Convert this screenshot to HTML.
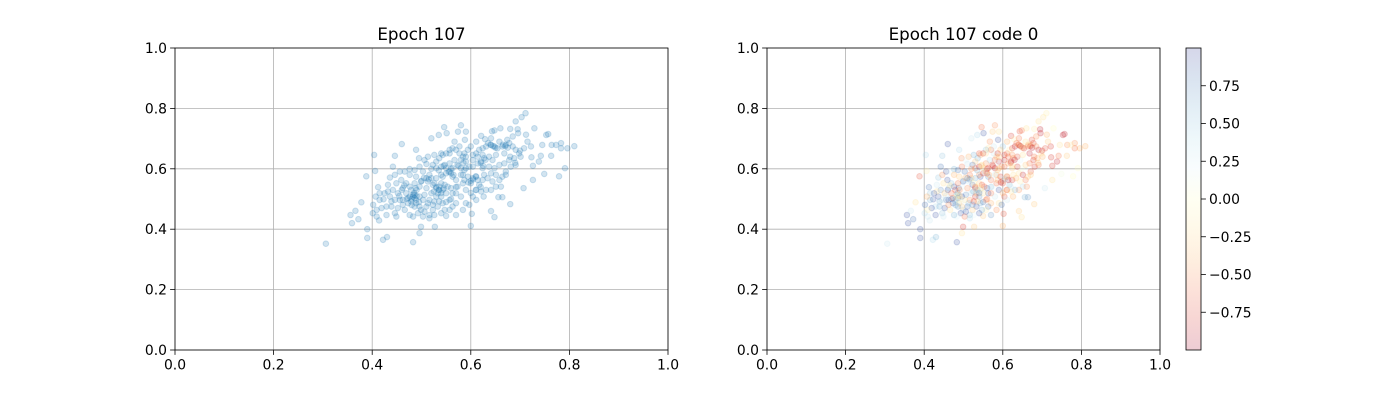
<!DOCTYPE html>
<html><head><meta charset="utf-8">
<style>
body{margin:0;background:#fff;}
svg{display:block;font-family:"DejaVu Sans","Liberation Sans",sans-serif;}
</style></head>
<body>
<svg id="fig" width="1400" height="400" viewBox="0 0 1400 400" xmlns="http://www.w3.org/2000/svg">
<rect width="1400" height="400" fill="#fff"/>
</svg>
<script>
const xsMain=[0.306,0.356,0.359,0.372,0.366,0.378,0.388,0.390,0.390,0.401,0.404,0.406,0.412,0.414,0.422,0.430,0.423,0.436,0.442,0.446,0.460,0.476,0.483,0.489,0.495,0.496,0.499,0.510,0.520,0.527,0.535,0.546,0.551,0.574,0.580,0.590,0.588,0.600,0.602,0.621,0.629,0.643,0.648,0.660,0.680,0.691,0.703,0.711,0.695,0.696,0.712,0.729,0.753,0.757,0.745,0.764,0.783,0.796,0.810,0.783,0.722,0.723,0.738,0.742,0.726,0.749,0.779,0.791,0.763,0.773,0.726,0.707,0.680,0.648,0.641,0.656,0.664,0.626,
0.462,0.469,0.476,0.486,0.489,0.488,0.479,0.469,0.459,0.449,0.442,0.436,0.429,0.419,0.409,0.415,0.432,0.446,0.456,0.466,0.476,0.503,0.516,0.513,0.523,0.530,0.536,0.540,0.543,0.550,0.557,0.563,0.570,0.573,0.563,0.557,0.543,0.533,0.523,0.510,0.499,0.493,0.483,0.476,0.466,0.452,0.446,0.449,0.503,0.516,0.550,0.570,0.584,0.590,0.597,0.604,0.611,0.617,0.624,0.634,0.641,0.651,0.658,0.664,0.671,0.651,0.641,0.631,0.621,0.611,0.590,0.584,0.587,0.594,0.604,0.611,0.597,0.590,0.584,0.577,0.570,0.563,0.557,0.550,0.543,0.536,0.530,0.523,0.530,0.540,0.547,0.557,0.567,0.573,0.580,0.587,0.604,0.611,0.617,0.624,0.631,0.641,0.648,0.654,0.664,0.671,0.678,0.685,0.691,0.698,0.688,0.678,0.668,0.658,0.644,0.637,0.627,0.621,0.614,0.604,0.624,0.637,0.648,0.685,0.674,0.658,0.641,0.611,0.600,0.594,0.587,0.577,0.567,0.557,0.540,0.526,0.513,0.506,0.496,0.486,0.489,0.499,0.510,0.520,0.530,0.540,0.550,0.560,0.570,0.580,0.570,0.563,0.557,0.547,0.540,0.526,0.516,0.506,0.496,0.486,0.479,0.473,0.462,0.456,0.446,0.439,0.432,0.425,0.415,0.407,0.402,0.409,0.429,0.439,0.452,0.462,0.476,0.486,0.496,0.506,0.516,0.526,0.536,0.553,0.584,0.600,0.614,0.627,0.644,0.661,0.671,0.681,0.691,0.701,0.708,0.715,0.668,0.651,0.624,0.614,0.604,0.590,0.580,0.563,0.550,0.540,0.530,0.520,0.510,0.483,0.473,0.496,0.503,0.513,0.523,0.533,0.543,0.547,0.526,0.536,0.483,0.489,0.486];
const ysMain=[0.352,0.447,0.420,0.433,0.461,0.489,0.575,0.400,0.371,0.453,0.646,0.593,0.539,0.429,0.365,0.374,0.499,0.571,0.607,0.643,0.682,0.599,0.357,0.663,0.635,0.387,0.408,0.616,0.701,0.408,0.712,0.738,0.718,0.723,0.744,0.723,0.696,0.411,0.451,0.709,0.698,0.724,0.727,0.734,0.732,0.757,0.771,0.784,0.731,0.718,0.713,0.734,0.712,0.715,0.679,0.679,0.685,0.668,0.675,0.668,0.674,0.638,0.624,0.643,0.610,0.583,0.575,0.602,0.643,0.679,0.563,0.536,0.483,0.440,0.460,0.506,0.506,0.508,
0.497,0.519,0.508,0.503,0.486,0.536,0.530,0.552,0.563,0.552,0.530,0.508,0.475,0.470,0.464,0.497,0.547,0.580,0.591,0.591,0.580,0.591,0.580,0.558,0.547,0.536,0.530,0.552,0.574,0.585,0.591,0.574,0.563,0.541,0.519,0.497,0.486,0.475,0.464,0.475,0.464,0.453,0.442,0.447,0.464,0.470,0.453,0.442,0.442,0.436,0.444,0.447,0.464,0.486,0.481,0.508,0.530,0.547,0.563,0.569,0.585,0.580,0.563,0.574,0.591,0.541,0.530,0.530,0.525,0.497,0.530,0.552,0.563,0.574,0.569,0.574,0.607,0.624,0.640,0.651,0.663,0.668,0.663,0.651,0.646,0.635,0.624,0.613,0.602,0.607,0.613,0.618,0.629,0.613,0.602,0.596,0.646,0.651,0.663,0.668,0.674,0.679,0.674,0.668,0.674,0.679,0.685,0.674,0.663,0.651,0.635,0.629,0.618,0.613,0.629,0.640,0.635,0.624,0.618,0.607,0.602,0.607,0.602,0.707,0.696,0.690,0.701,0.690,0.674,0.663,0.651,0.674,0.690,0.651,0.651,0.646,0.640,0.629,0.607,0.596,0.574,0.558,0.536,0.519,0.508,0.508,0.519,0.536,0.519,0.508,0.486,0.475,0.464,0.464,0.453,0.447,0.447,0.458,0.475,0.475,0.492,0.486,0.481,0.497,0.497,0.492,0.525,0.519,0.519,0.508,0.481,0.442,0.447,0.475,0.519,0.536,0.541,0.552,0.541,0.514,0.497,0.492,0.492,0.541,0.580,0.552,0.563,0.580,0.558,0.541,0.580,0.607,0.613,0.640,0.668,0.690,0.651,0.646,0.646,0.640,0.629,0.602,0.580,0.602,0.602,0.580,0.569,0.569,0.569,0.514,0.503,0.508,0.497,0.486,0.481,0.519,0.530,0.547,0.552,0.541,0.508,0.497,0.514];
const codesMain=[0.3,0.9,0.9,0.8,0.3,-0.2,-0.7,0.9,0.9,0.4,0.4,-0.1,0.8,0.3,0.4,0.6,0.9,0.5,0.8,0.5,0.9,0.6,0.9,0.4,-0.5,-0.2,-0.8,0.3,0.3,-0.3,0.4,-0.6,0.9,-0.3,-0.5,-0.2,0.9,-0.4,-0.7,-0.8,-0.1,-0.7,-0.6,-0.2,-0.1,-0.2,-0.2,-0.1,-0.9,-0.9,-0.4,0.0,-0.9,-0.9,-0.2,-0.5,-0.5,-0.4,-0.4,-0.6,-0.8,-0.8,-0.9,-0.6,-0.8,0.1,0.0,0.0,-0.3,-0.1,-0.2,0.3,-0.3,-0.2,-0.3,0.6,0.7,-0.4,
0.9,-0.6,0.2,0.9,-0.3,0.8,-0.7,0.5,0.9,-0.2,0.7,0.9,0.4,0.9,-0.1,0.6,0.3,-0.5,0.9,0.2,-0.4,0.8,-0.6,0.3,0.9,-0.7,0.5,-0.3,0.9,-0.8,-0.4,0.7,-0.6,0.2,0.9,-0.5,0.6,0.9,-0.3,0.8,0.4,0.9,0.2,0.6,-0.2,0.9,0.5,0.3,-0.6,0.4,-0.3,0.7,-0.5,-0.2,0.8,-0.7,-0.3,0.5,-0.8,-0.4,-0.2,-0.9,-0.6,-0.3,-0.7,0.4,-0.5,0.6,-0.2,0.3,0.9,-0.6,-0.4,-0.8,0.2,-0.7,-0.5,-0.9,-0.3,0.3,-0.6,-0.2,0.5,-0.8,-0.4,0.6,-0.3,0.8,-0.6,-0.9,-0.2,-0.5,0.4,-0.7,-0.9,-0.3,-0.8,-0.6,-0.1,-0.7,-0.9,-0.4,-0.2,-0.8,-0.6,-0.3,-0.7,-0.5,-0.9,-0.2,-0.4,-0.8,-0.6,-0.3,0.2,-0.7,-0.5,-0.9,-0.4,-0.6,-0.3,-0.8,0.1,-0.5,-0.7,-0.2,-0.6,-0.4,0.5,-0.3,-0.8,0.3,-0.5,-0.2,-0.7,0.6,-0.4,0.2,-0.6,0.8,-0.3,0.9,-0.5,0.4,-0.8,0.7,-0.2,0.9,-0.6,0.3,-0.4,0.8,-0.1,0.6,0.9,0.2,0.5,0.9,-0.3,0.7,0.4,0.9,-0.5,0.8,0.3,0.6,-0.2,0.9,0.5,-0.4,0.8,0.3,0.9,0.6,-0.3,0.4,0.9,-0.6,0.2,0.7,-0.5,-0.8,-0.3,-0.6,-0.4,-0.7,-0.9,-0.2,-0.1,-0.5,-0.3,-0.8,-0.6,-0.4,-0.7,-0.3,-0.9,-0.2,-0.5,-0.6,-0.8,-0.4,0.3,-0.7,-0.2,-0.5,0.6,-0.3,0.8,0.4,-0.6,0.9,-0.2,0.5,0.7,-0.4,0.3,-0.7];
const xsExtra=[0.48,0.49,0.485,0.495,0.47,0.48,0.49,0.535,0.53,0.54,0.545,0.525,0.56,0.555,0.565,0.56,0.60,0.605,0.595,0.61,0.64,0.645,0.65,0.635,0.67,0.665,0.675,0.58,0.585,0.575,0.59,0.62,0.625,0.63,0.50,0.505,0.515,0.46,0.455,0.465,0.52,0.535,0.545,0.61,0.62,0.60,0.55,0.56,0.57,0.68,0.69,0.70];
const ysExtra=[0.50,0.51,0.52,0.49,0.50,0.48,0.53,0.53,0.54,0.52,0.535,0.525,0.585,0.59,0.58,0.60,0.56,0.565,0.555,0.575,0.68,0.675,0.67,0.685,0.675,0.68,0.67,0.63,0.62,0.61,0.64,0.62,0.61,0.63,0.56,0.57,0.565,0.53,0.51,0.545,0.60,0.595,0.61,0.53,0.54,0.52,0.49,0.50,0.54,0.64,0.62,0.66];
const codesExtra=[0.5,-0.3,0.7,0.2,0.8,0.6,-0.5,0.4,-0.6,0.8,-0.2,0.6,-0.7,0.3,-0.4,-0.8,-0.5,0.5,-0.9,-0.3,-0.7,-0.9,-0.5,-0.6,-0.8,-0.4,-0.9,-0.6,0.2,-0.8,-0.3,-0.7,-0.2,-0.9,0.4,-0.4,0.7,0.9,0.3,-0.2,-0.5,0.6,-0.3,-0.7,0.3,-0.4,0.8,-0.6,0.5,-0.6,-0.3,-0.8];
const xTicks=[0,0.2,0.4,0.6,0.8,1.0];
const yTicks=[0,0.2,0.4,0.6,0.8,1.0];
const tickLabels=["0.0","0.2","0.4","0.6","0.8","1.0"];
const cbTicks=[0.75,0.5,0.25,0,-0.25,-0.5,-0.75];
const cbTickLabels=["0.75","0.50","0.25","0.00","\u22120.25","\u22120.50","\u22120.75"];
const titles=["Epoch 107","Epoch 107 code 0"];

const xs=xsMain.concat(xsExtra);
const ys=ysMain.concat(ysExtra);
const codes=[];
for(let i=0;i<xsMain.length;i++){codes.push(codesMain[i]!==undefined?codesMain[i]:0);}
codesExtra.forEach(c=>codes.push(c));

const NS="http://www.w3.org/2000/svg";
const svg=document.getElementById('fig');
function mk(tag,attrs,parent){const e=document.createElementNS(NS,tag);for(const k in attrs)e.setAttribute(k,attrs[k]);(parent||svg).appendChild(e);return e;}
const stops=["#a50026","#d73027","#f46d43","#fdae61","#fee090","#ffffbf","#e0f3f8","#abd9e9","#74add1","#4575b4","#313695"];
function hex(h){return [parseInt(h.slice(1,3),16),parseInt(h.slice(3,5),16),parseInt(h.slice(5,7),16)];}
function cmap(v){if(typeof v!=='number'||isNaN(v))v=0;let t=(v+1)/2;t=Math.max(0,Math.min(1,t));const p=t*10;const i=Math.min(9,Math.floor(p));const f=p-i;const a=hex(stops[i]),b=hex(stops[i+1]);return 'rgb('+a.map((c,k)=>Math.round(c+(b[k]-c)*f)).join(',')+')';}

const panels=[{x0:175,x1:668,y0:48,y1:350,name:'left'},{x0:767,x1:1160,y0:48,y1:350,name:'right'}];
panels.forEach((p,pi)=>{
  const sx=v=>p.x0+v*(p.x1-p.x0), sy=v=>p.y1-v*(p.y1-p.y0);
  const g=mk('g',{});
  
  
  xTicks.forEach((t,i)=>{
    const l=mk('line',{x1:sx(t),x2:sx(t),y1:p.y0,y2:p.y1,stroke:'#b0b0b0','stroke-width':0.8},g);
    
    
    mk('line',{x1:sx(t),x2:sx(t),y1:p.y1,y2:p.y1+4.9,stroke:'#000','stroke-width':0.8},g);
    const tx=mk('text',{x:sx(t),y:p.y1+19.5,'font-size':13.9,'text-anchor':'middle',fill:'#000'},g);
    tx.textContent=tickLabels[i];
    
    
  });
  yTicks.forEach((t,i)=>{
    const l=mk('line',{x1:p.x0,x2:p.x1,y1:sy(t),y2:sy(t),stroke:'#b0b0b0','stroke-width':0.8},g);
    
    
    mk('line',{x1:p.x0-4.9,x2:p.x0,y1:sy(t),y2:sy(t),stroke:'#000','stroke-width':0.8},g);
    const tx=mk('text',{x:p.x0-8,y:sy(t)+5,'font-size':13.9,'text-anchor':'end',fill:'#000'},g);
    tx.textContent=tickLabels[i];
    
    
  });
  xs.forEach((x,i)=>{
    const col=pi===0?'#1f77b4':cmap(codes[i]);
    const c=mk('circle',{cx:sx(x),cy:sy(ys[i]),r:2.8,fill:col,'fill-opacity':0.2,stroke:col,'stroke-opacity':0.2,'stroke-width':1},g);
    
    
  });
  const fr=mk('rect',{x:p.x0,y:p.y0,width:p.x1-p.x0,height:p.y1-p.y0,fill:'none',stroke:'#000','stroke-width':0.8},g);
  
  
  const ti=mk('text',{x:(p.x0+p.x1)/2,y:p.y0-8,'font-size':16.7,'text-anchor':'middle',fill:'#000'},g);
  ti.textContent=titles[pi];
  
  
});

// colorbar
const cb={x0:1186,x1:1201,y0:48,y1:350};
const cby=v=>cb.y0+(1-v)/2*(cb.y1-cb.y0);
const cg=mk('g',{});


const defs=mk('defs',{});
const grad=mk('linearGradient',{id:'cbg',x1:0,y1:1,x2:0,y2:0},defs);
stops.forEach((s,i)=>mk('stop',{offset:(i/10),'stop-color':s,'stop-opacity':0.2},grad));
const cr=mk('rect',{x:cb.x0,y:cb.y0,width:cb.x1-cb.x0,height:cb.y1-cb.y0,fill:'url(#cbg)',stroke:'#000','stroke-width':0.8},cg);


cbTicks.forEach((t,i)=>{
  mk('line',{x1:cb.x1,x2:cb.x1+4.9,y1:cby(t),y2:cby(t),stroke:'#000','stroke-width':0.8},cg);
  const tx=mk('text',{x:cb.x1+8,y:cby(t)+5,'font-size':13.9,fill:'#000'},cg);
  tx.textContent=cbTickLabels[i];
  
  
});
</script>
</body></html>
